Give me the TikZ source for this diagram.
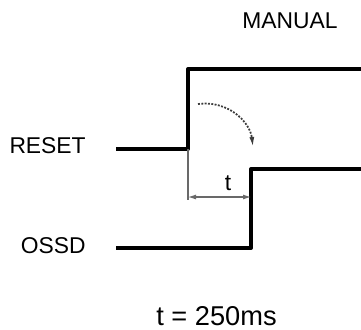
\documentclass[tikz,border=0pt]{standalone}
\usepackage{fontspec}
\setmainfont{Liberation Sans}
\usetikzlibrary{arrows.meta,positioning,calc}
\definecolor{SignalBlack}{RGB}{0,0,0}
\definecolor{DimGray}{RGB}{105,105,105}
\definecolor{CurveGray}{RGB}{60,60,60}
\tikzset{
  sigline/.style={line width=0.08cm,draw=SignalBlack,line join=round},
  dimline/.style={line width=0.7pt,draw=DimGray},
  dimarrow/.style={{Latex[length=1.6mm,width=1mm]}-{Latex[length=1.6mm,width=1mm]},line width=0.6pt,draw=DimGray},
  delayarrow/.style={-{Latex[length=2mm,width=1mm]},dash pattern=on 1.1pt off 0.8pt,line width=1pt,draw=CurveGray},
  siglabel/.style={font=\fontsize{13}{15}\selectfont,inner sep=0pt},
  notelabel/.style={font=\fontsize{15.5}{18}\selectfont,inner sep=0pt}
}

\begin{document}
\begin{tikzpicture}[x=0.02cm,y=-0.02cm]
\useasboundingbox (0,0) rectangle (361,329);
% labels
\node[siglabel, anchor=base west] (manual) at (242,28) {MANUAL};
\node[siglabel, anchor=base east] (reset) at (86,153) {RESET};
\node[siglabel, anchor=base east] (ossd) at (86,253) {OSSD};
\node[notelabel, anchor=base west] (delay) at (156,325) {t = 250ms};
% RESET signal
\coordinate (r0) at (116,149);
\coordinate (r1) at (188,149);
\coordinate (r2) at (188,69);
\coordinate (r3) at (361,69);
\draw[sigline] (r0) -- (r1) -- (r2) -- (r3);
% OSSD signal
\coordinate (o0) at (116,248);
\coordinate (o1) at (251,248);
\coordinate (o2) at (251,169);
\coordinate (o3) at (361,169);
\draw[sigline] (o0) -- (o1) -- (o2) -- (o3);
% delay t
\coordinate (d0) at (188,200);
\coordinate (dA) at (188,197);
\coordinate (dB) at (251,197);
\draw[dimline] (r1) -- (d0);
\draw[dimarrow] (dA) -- (dB);
\node[siglabel] (tlab) at (228,183) {t};
% curved arrow
\coordinate (c0) at (198,104);
\coordinate (c1) at (253,147);
\draw[delayarrow] (c0) .. controls (228,100) and (250,122) .. (c1);
\end{tikzpicture}
\end{document}
